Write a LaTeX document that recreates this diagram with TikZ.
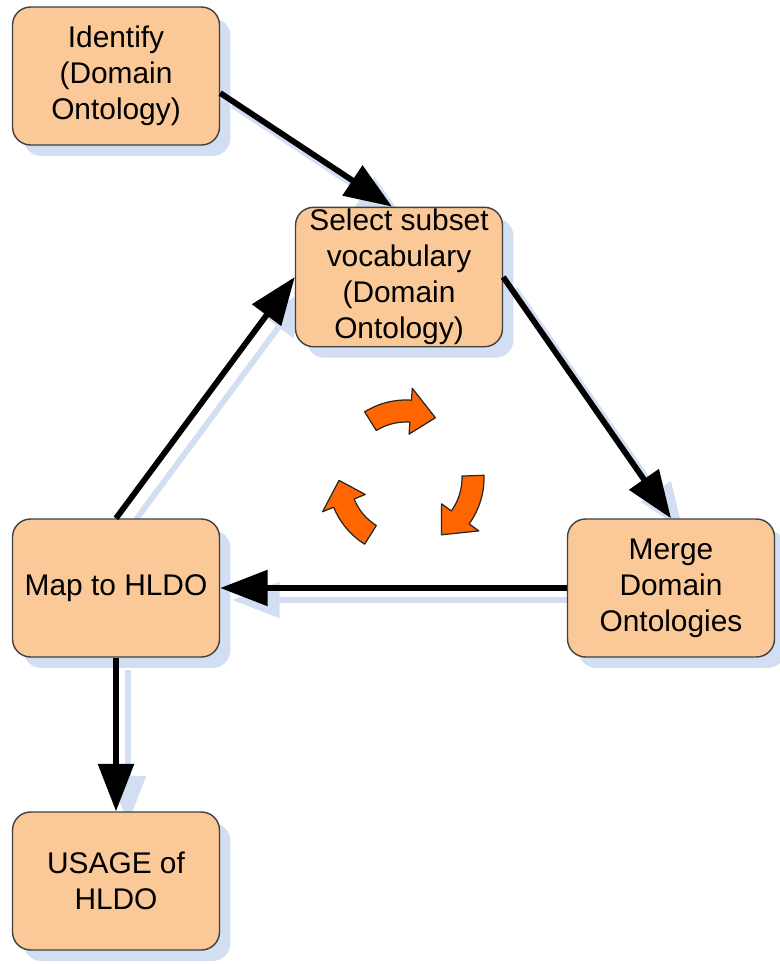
\documentclass[tikz,border=0pt]{standalone}
\usepackage{fontspec}
\setmainfont{Liberation Sans}
\usetikzlibrary{calc}
\usetikzlibrary{arrows.meta}
\usetikzlibrary{shadows}
\usetikzlibrary{backgrounds}
\definecolor{peach}{RGB}{251,201,152}
\definecolor{shadowblue}{RGB}{210,222,241}
\definecolor{cycorange}{RGB}{255,102,0}
% tail angle, head base angle, tip angle
\newcommand\cyclearrow[3]{\filldraw[cyclearr] (#1:78) arc[start angle=#1, end angle=#2, radius=78] -- (#2:90) -- (#3:67) -- (#2:44) -- (#2:56) arc[start angle=#2, end angle=#1, radius=56] -- cycle;}

\begin{document}
\begin{tikzpicture}[x=0.02cm, y=0.02cm,
  box/.style={draw=black!75, line width=0.8pt, fill=peach, rounded corners=0.36cm,
    minimum width=4.14cm, minimum height=2.76cm, inner sep=1pt, align=center,
    font=\fontsize{17}{20.5}\selectfont,
    drop shadow={shadow xshift=0.22cm, shadow yshift=-0.22cm, fill=shadowblue, opacity=1}},
  link/.style={black, line width=3.3pt, -{Triangle[length=0.95cm, width=0.7cm]}},
  linkshadow/.style={shadowblue, line width=3.3pt, -{Triangle[length=0.95cm, width=0.7cm]},
    transform canvas={shift={(0.24cm,-0.24cm)}}},
  cyclearr/.style={fill=cycorange, draw=black!85, line width=0.7pt, line join=round}]

\useasboundingbox (0,0) rectangle (779,-964);

\coordinate (I) at (116,-76);
\coordinate (S) at (399,-277);
\coordinate (M) at (671,-588);
\coordinate (H) at (116,-588);
\coordinate (U) at (116,-881);

\node[box] (identify) at (I) {Identify\\(Domain\\Ontology)};
\node[box] (select) at (S) {Select subset\\vocabulary\\(Domain\\Ontology)};
\node[box] (merge) at (M) {Merge\\Domain\\Ontologies};
\node[box] (map) at (H) {Map to HLDO};
\node[box] (usage) at (U) {USAGE of\\HLDO};

\begin{pgfonlayer}{background}
\draw[linkshadow] ([yshift=-0.34cm]identify.east) -- ([xshift=-0.14cm]select.north);
\draw[linkshadow] (select.east) -- (merge.north);
\draw[linkshadow] (merge.west) -- (map.east);
\draw[linkshadow] (map.north) -- (select.west);
\draw[linkshadow] (map.south) -- (usage.north);
\end{pgfonlayer}

\draw[link] ([yshift=-0.34cm]identify.east) -- ([xshift=-0.14cm]select.north);
\draw[link] (select.east) -- (merge.north);
\draw[link] (merge.west) -- (map.east);
\draw[link] (map.north) -- (select.west);
\draw[link] (map.south) -- (usage.north);

\begin{scope}[shift={(406,-478)}]
\cyclearrow{122}{86}{64}
\cyclearrow{2}{-36}{-58}
\cyclearrow{238}{202}{182}
\end{scope}

\end{tikzpicture}
\end{document}
